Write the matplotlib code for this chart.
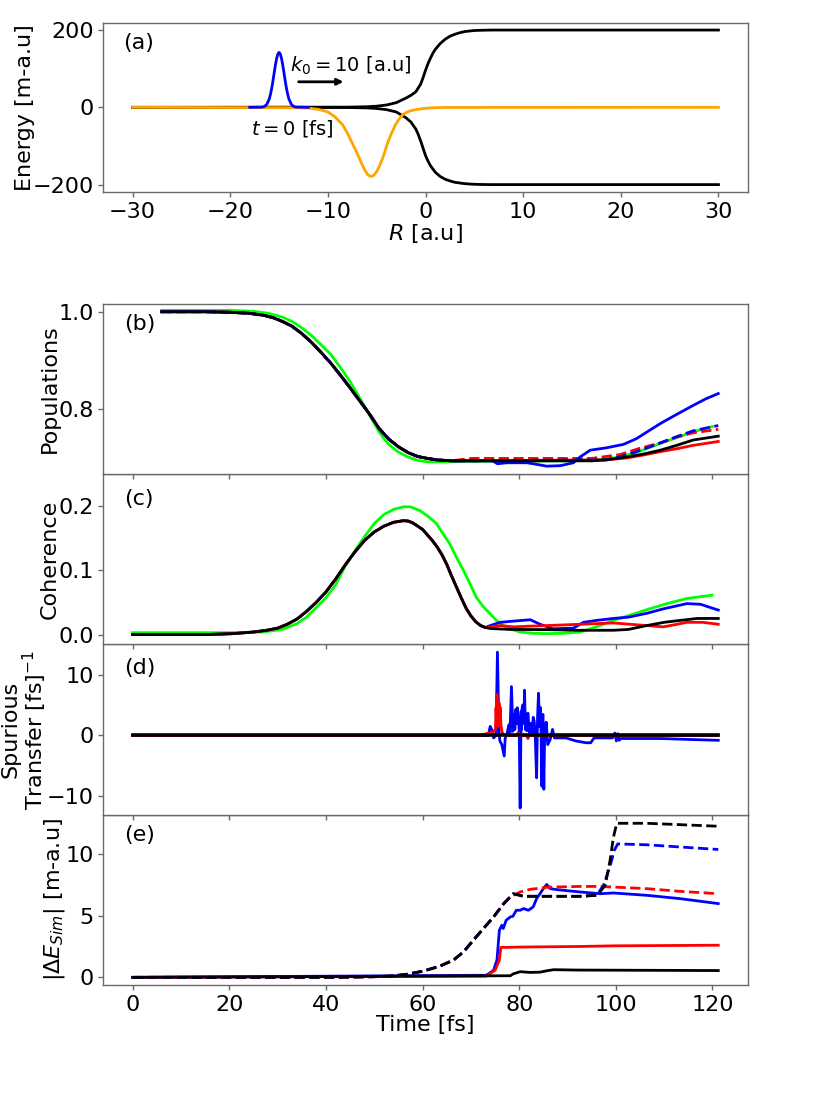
import matplotlib
matplotlib.use("Agg")
import matplotlib.pyplot as plt

# ---------------- panel (a) data ----------------
R_up = [-30, -8, -6, -5, -4, -3, -2, -1.5, -1, -0.5, -0.25, 0, 0.25, 0.5, 0.75, 1, 1.5, 2, 2.5,
        3, 3.5, 4, 5, 6, 7, 30]
E_up = [0, 0.5, 1.5, 3, 6, 12, 24, 31, 40, 60, 77, 96, 113, 127, 140, 150, 165, 176, 184,
        189, 193, 196, 198.8, 199.6, 200, 200]
R_lo = [-30, -8, -6, -5, -4, -3, -2, -1.5, -1, -0.75, -0.5, -0.25, 0, 0.25, 0.5, 1, 1.5, 2, 2.5,
        3, 4, 5, 6, 7, 30]
E_lo = [0, -0.5, -1.5, -3, -6, -12, -27, -38, -56, -70, -87, -106, -125, -139, -151, -168, -179,
        -186, -190.5, -194, -197.5, -199.2, -199.8, -200, -200]
R_cpl = [-30, -13, -12, -11, -10, -9.3, -8.5, -8, -7.5, -7, -6.5, -6.2, -5.9, -5.6, -5.3, -5.0,
         -4.7, -4.3, -3.9, -3.5, -3.1, -2.7, -2.3, -1.8, -1.2, -0.5, 0.5, 2, 30]
E_cpl = [0, -1, -2, -5, -12, -24, -45, -67, -93, -119, -148, -163, -175, -179, -176, -166,
         -151, -125, -93, -68, -46, -30, -18, -11, -7, -4, -1.5, -0.3, 0]
R_wp = [-18, -16.75, -16.5, -16.25, -16, -15.875, -15.75, -15.625, -15.5, -15.375, -15.25,
        -15.125, -15, -14.875, -14.75, -14.625, -14.5, -14.375, -14.25, -14.125, -14,
        -13.75, -13.5, -13.25, -12]
E_wp = [0, 0.5, 2.2, 7.9, 22, 34.5, 50, 69, 89.5, 109.5, 126.5, 138, 142, 138, 126.5, 109.5,
        89.5, 69, 50, 34.5, 22, 7.9, 2.2, 0.5, 0]

# ---------------- panel (b) populations ----------------
early_b = [(6, 1.0), (15, 1.0), (20, 0.999), (24, 0.997), (27, 0.993), (29, 0.988), (31, 0.980),
           (33, 0.970), (35, 0.955), (37, 0.937), (39, 0.916), (41, 0.894), (43, 0.869),
           (45, 0.843), (47, 0.816), (49, 0.789), (51, 0.759), (53, 0.737), (55, 0.721),
           (57, 0.709), (59, 0.701), (61, 0.697), (63, 0.694), (66, 0.692)]
black_b = early_b + [(95, 0.692), (98, 0.694), (102.3, 0.700), (105.7, 0.706), (109.2, 0.714),
                     (112.6, 0.724), (116, 0.735), (121.2, 0.743)]
green_b = [(6, 1.003), (20, 1.003), (25, 1.001), (28, 0.997), (31, 0.989), (33, 0.980), (35, 0.967),
           (37, 0.951), (39, 0.932), (41, 0.912), (43, 0.885), (45, 0.856), (47, 0.822),
           (49, 0.787), (51, 0.752), (52, 0.738), (53, 0.726), (55, 0.710), (57, 0.700),
           (59, 0.693), (61, 0.690), (65, 0.690), (70, 0.691), (90, 0.692), (97, 0.695),
           (100.9, 0.700), (105, 0.712), (109.2, 0.728), (112.6, 0.740), (116, 0.752), (120, 0.763)]
blue_b = early_b + [(74.5, 0.692), (75.5, 0.686), (77.4, 0.688), (81.6, 0.688), (82.9, 0.686),
                    (85.7, 0.681), (88.5, 0.682), (91.2, 0.688), (92.6, 0.700), (94.7, 0.714),
                    (98.1, 0.719), (101.6, 0.726), (104.3, 0.738), (106.5, 0.752), (109.2, 0.769),
                    (112.6, 0.788), (116.1, 0.807), (118.6, 0.820), (121.2, 0.831)]
blue_dash_b = early_b + [(98, 0.694), (102.3, 0.704), (105.7, 0.716), (109.2, 0.729),
                         (112.6, 0.742), (116, 0.754), (121.2, 0.765)]
red_dash_b = early_b + [(70, 0.697), (95, 0.697), (100.9, 0.705), (105, 0.718), (109.2, 0.729),
                        (112.6, 0.741), (116, 0.750), (121.2, 0.757)]
red_b = early_b + [(98, 0.694), (102.3, 0.698), (105.7, 0.704), (109.2, 0.711), (112.6, 0.717),
                   (116, 0.724), (121.2, 0.732)]

# ---------------- panel (c) coherence ----------------
early_c = [(0, 0.0), (15, 0.0), (20.8, 0.0015), (25, 0.004), (28, 0.007), (30, 0.010), (32, 0.016),
           (34, 0.024), (36, 0.036), (38, 0.050), (40, 0.066), (42, 0.086), (44, 0.108),
           (46, 0.128), (48, 0.146), (50, 0.159), (52, 0.168), (54, 0.174), (56, 0.1765),
           (57, 0.176), (58, 0.173), (60, 0.163), (62, 0.146), (63, 0.136), (64, 0.124),
           (65, 0.109), (66, 0.091), (67, 0.074), (68, 0.057), (69, 0.041), (70, 0.029),
           (71, 0.020), (72, 0.014), (73, 0.011)]
black_c = early_c + [(74, 0.0095), (78, 0.008), (85.7, 0.0077), (92.6, 0.0067), (99.5, 0.0067),
                     (102.6, 0.008), (106.4, 0.014), (110, 0.019), (113.3, 0.022), (116.8, 0.025),
                     (121.2, 0.025)]
red_c = early_c + [(74, 0.012), (76.1, 0.014), (78.8, 0.012), (82, 0.013), (85.7, 0.014),
                   (92.6, 0.016), (99.5, 0.018), (103, 0.016), (106.4, 0.014), (109.8, 0.012),
                   (112, 0.015), (114.7, 0.019), (118, 0.019), (121.2, 0.016)]
blue_c = early_c + [(74, 0.014), (76.1, 0.019), (79, 0.021), (82.3, 0.023), (84.3, 0.016),
                    (87, 0.009), (91.2, 0.010), (93.3, 0.019), (96, 0.022), (99.5, 0.025),
                    (102.6, 0.027), (106.4, 0.033), (109.9, 0.040), (114.7, 0.048), (117.5, 0.047),
                    (121.2, 0.038)]
green_c = [(0, 0.003), (20, 0.003), (27, 0.004), (31, 0.008), (34, 0.017), (36, 0.027),
           (38, 0.042), (40, 0.057), (42, 0.077), (44, 0.106), (46, 0.130), (48, 0.152),
           (50, 0.172), (52, 0.186), (54, 0.194), (56, 0.198), (57.5, 0.198), (59.5, 0.192),
           (61, 0.184), (62.9, 0.172), (64, 0.159), (65.6, 0.141), (67, 0.120), (68.5, 0.099),
           (70, 0.076), (71.1, 0.058), (72.5, 0.044), (74, 0.032), (75.3, 0.022), (76.5, 0.015),
           (78, 0.009), (80.2, 0.004), (83, 0.002), (85.7, 0.0015), (89, 0.002), (92.6, 0.004),
           (96, 0.012), (99.5, 0.022), (103.7, 0.032), (107, 0.040), (110.6, 0.048),
           (114.7, 0.056), (119.9, 0.061)]

# ---------------- panel (d) spurious transfer ----------------
black_d = [(0, 0.0), (121.2, 0.0)]
blue_d = [(0, 0), (73.6, 0), (74.0, 1.5), (74.3, 1.0), (74.7, -0.4), (75.2, 0), (75.5, 13.8),
          (75.8, 0.7), (76.0, -0.9), (76.4, -1.5), (76.9, -3.4), (77.1, -0.5), (77.5, 0.4),
          (77.9, 1.8), (78.1, 0.5), (78.4, 8.1), (78.7, 0.7), (78.9, 3.5), (79.1, 1.0),
          (79.3, 4.3), (79.5, 2.0), (79.6, 4.6), (79.8, 3.0), (80.0, 1.0), (80.2, -12.0),
          (80.4, 4.0), (80.5, 1.0), (80.6, 4.5), (80.8, 5.1), (81.0, 2.0), (81.1, 7.5),
          (81.3, 1.0), (81.5, 2.9), (81.6, 0.8), (81.8, 3.7), (82.1, 0.5), (82.4, 2.0),
          (82.7, 0.5), (82.9, 3.0), (83.1, 2.4), (83.3, 0.5), (83.6, -7.0), (83.8, 3.0),
          (84.0, 7.0), (84.2, 1.5), (84.4, 4.6), (84.5, 2.0), (84.7, -8.4), (84.9, 3.5),
          (85.1, -8.9), (85.3, 2.0), (85.4, 1.0), (85.6, 2.2), (85.9, -1.5), (86.4, -0.7),
          (86.9, 1.0), (87.3, -0.4), (89.7, -0.4), (91.7, -0.9), (93.8, -1.2), (94.8, -1.2),
          (95.5, -0.4), (99.3, -0.4), (99.8, 0.4), (100.1, -0.9), (100.4, 0.3), (100.7, -0.8),
          (101.0, -0.5), (102.4, -0.5), (109.3, -0.5), (115.0, -0.65), (121.2, -0.8)]
red_d = [(0, 0), (72, 0), (73.6, 0.4), (74.7, 0.7), (75.1, 1.0), (75.2, 4.6), (75.3, 3.0),
         (75.4, 6.8), (75.5, 2.5), (75.6, 5.1), (75.7, 1.5), (75.8, 5.5), (75.9, 4.85),
         (76.0, 1.8), (76.1, 4.6), (76.2, 2.0), (76.4, 0.7), (76.7, 0.15), (77.5, 0), (79.5, 0),
         (79.8, 0.5), (80.1, 0), (81.5, 0), (81.8, -0.5), (82.1, 0), (121.2, 0)]

# ---------------- panel (e) energy error ----------------
black_dash_e = [(0, 0), (40, 0), (45, 0.02), (49.8, 0.05), (53.3, 0.1), (56.7, 0.24), (60.2, 0.51),
                (63.6, 0.91), (66.4, 1.4), (68.5, 2.07), (70.5, 3.0), (72.6, 3.95), (74.7, 4.89),
                (76.8, 5.97), (78.8, 6.77), (80.9, 6.56), (85.7, 6.56), (92.6, 6.56), (96.1, 6.64),
                (97.8, 7.44), (98.8, 9.46), (99.5, 11.34), (100.2, 12.47), (106.4, 12.47),
                (121.2, 12.23)]
red_dash_e = [(0, 0), (40, 0), (45, 0.02), (49.8, 0.05), (53.3, 0.1), (56.7, 0.24), (60.2, 0.51),
              (63.6, 0.91), (66.4, 1.4), (68.5, 2.07), (70.5, 3.0), (72.6, 3.95), (74.7, 4.89),
              (76.8, 5.97), (78.0, 6.45), (80.2, 6.91), (82.2, 7.12), (86, 7.3), (92.6, 7.36),
              (96, 7.36), (99.5, 7.31), (106.4, 7.18), (113.3, 6.96), (121.2, 6.77)]
blue_dash_e = [(0, 0), (40, 0), (45, 0.02), (49.8, 0.05), (53.3, 0.1), (56.7, 0.24), (60.2, 0.51),
               (63.6, 0.91), (66.4, 1.4), (68.5, 2.07), (70.5, 3.0), (72.6, 3.95), (74.7, 4.89),
               (76.8, 5.97), (78.8, 6.77), (80.9, 6.56), (85.7, 6.56), (92.6, 6.56), (96.1, 6.64),
               (97.5, 7.5), (98.8, 9.0), (99.7, 10.3), (100.4, 10.8), (106.4, 10.73),
               (121.2, 10.35)]
blue_e = [(0, 0), (73.2, 0.17), (74.7, 0.57), (75.4, 1.4), (75.9, 3.81), (76.4, 4.22), (76.7, 3.95),
          (77.3, 4.62), (78.2, 4.9), (78.7, 4.94), (79.4, 5.43), (80.2, 5.43), (80.9, 5.57),
          (81.9, 5.43), (82.9, 5.70), (83.6, 6.37), (84.3, 6.77), (85.0, 7.18), (85.7, 7.52),
          (86.4, 7.18), (87.8, 7.10), (92.6, 6.91), (96.8, 6.77), (99.5, 6.83), (106.4, 6.64),
          (113.3, 6.37), (121.2, 5.97)]
red_e = [(0, 0), (73.2, 0.1), (75.0, 0.57), (75.9, 1.4), (76.2, 2.42), (80, 2.45), (92.6, 2.5),
         (99.5, 2.55), (121.2, 2.6)]
black_e = [(0, 0), (78.2, 0.13), (78.7, 0.27), (80.2, 0.46), (82.2, 0.4), (84.3, 0.42),
           (85.7, 0.53), (87.1, 0.62), (92, 0.59), (121.2, 0.55)]

a_xticks = [-30, -20, -10, 0, 10, 20, 30]
a_yticks = [-200, 0, 200]
t_ticks = [0, 20, 40, 60, 80, 100, 120]
b_yticks = [0.8, 1.0]
c_yticks = [0.0, 0.1, 0.2]
d_yticks = [-10, 0, 10]
e_yticks = [0, 5, 10]

FS = 16
plt.rcParams['font.family'] = ['DejaVu Sans']
plt.rcParams['font.size'] = FS
plt.rcParams['mathtext.fontset'] = 'dejavusans'
SPINE = '#6a6a6a'


def xy(pairs):
    return [p[0] for p in pairs], [p[1] for p in pairs]


def style(ax):
    for s in ax.spines.values():
        s.set_color(SPINE)
        s.set_linewidth(1.0)
    ax.tick_params(color=SPINE, labelsize=FS, length=3.5, width=1.0)


fig = plt.figure(figsize=(8.3, 11.07), dpi=100)
L, W = 0.1245, 0.7764
axa = fig.add_axes([L, 0.8266, W, 0.1529])
H = 0.1539
axe = fig.add_axes([L, 0.1102, W, H])
axd = fig.add_axes([L, 0.1102 + H, W, H], sharex=axe)
axc = fig.add_axes([L, 0.1102 + 2 * H, W, H], sharex=axe)
axb = fig.add_axes([L, 0.1102 + 3 * H, W, H], sharex=axe)

LW = 2.0
# (a)
axa.plot(R_up, E_up, color='black', lw=LW)
axa.plot(R_lo, E_lo, color='black', lw=LW)
axa.plot(R_cpl, E_cpl, color='orange', lw=LW)
axa.plot(R_wp, E_wp, color='blue', lw=LW)
axa.set_xlim(-33, 33)
axa.set_ylim(-219, 219)
axa.set_xticks(a_xticks)
axa.set_yticks(a_yticks)
axa.set_xlabel(r'$R$ [a.u]', labelpad=0)
axa.set_ylabel('Energy [m-a.u]')
axa.yaxis.set_label_coords(-0.106, 0.5)
axa.text(0.031, 0.88, '(a)', transform=axa.transAxes, ha='left', va='center', fontsize=FS)
axa.text(-13.9, 107, r'$k_0=10$ [a.u]', ha='left', va='center', fontsize=14)
axa.text(-17.9, -56, r'$t=0$ [fs]', ha='left', va='center', fontsize=14)
axa.annotate('', xy=(-8.4, 66), xytext=(-13.0, 66),
             arrowprops=dict(arrowstyle='-|>', color='black', lw=2, mutation_scale=9,
                             shrinkA=0, shrinkB=0))
style(axa)

# (b)
for data, c, ls in [(green_b, 'lime', '-'), (red_b, 'red', '-'), (red_dash_b, 'red', '--'),
                    (blue_b, 'blue', '-'), (blue_dash_b, 'blue', '--'), (black_b, 'black', '-')]:
    x, y = xy(data)
    axb.plot(x, y, color=c, ls=ls, lw=LW)
axb.set_ylim(0.665, 1.017)
axb.set_yticks(b_yticks)
axb.set_ylabel('Populations')
axb.yaxis.set_label_coords(-0.067, 0.5)
axb.text(0.032, 0.878, '(b)', transform=axb.transAxes, ha='left', va='center', fontsize=FS)

# (c)
for data, c in [(green_c, 'lime'), (blue_c, 'blue'), (red_c, 'red'), (black_c, 'black')]:
    x, y = xy(data)
    axc.plot(x, y, color=c, lw=LW)
axc.set_ylim(-0.015, 0.249)
axc.set_yticks(c_yticks)
axc.set_ylabel('Coherence')
axc.yaxis.set_label_coords(-0.067, 0.5)
axc.text(0.032, 0.85, '(c)', transform=axc.transAxes, ha='left', va='center', fontsize=FS)

# (d)
for data, c, lw in [(blue_d, 'blue', LW), (red_d, 'red', LW), (black_d, 'black', 2.6)]:
    x, y = xy(data)
    axd.plot(x, y, color=c, lw=lw)
axd.set_ylim(-13.1, 15.1)
axd.set_yticks(d_yticks)
axd.set_ylabel('Spurious\nTransfer [fs]$^{-1}$', linespacing=1.0)
axd.yaxis.set_label_coords(-0.085, 0.5)
axd.text(0.032, 0.86, '(d)', transform=axd.transAxes, ha='left', va='center', fontsize=FS)

# (e)
for data, c, ls in [(blue_e, 'blue', '-'), (red_e, 'red', '-'), (black_e, 'black', '-'),
                    (red_dash_e, 'red', '--'), (blue_dash_e, 'blue', '--'),
                    (black_dash_e, 'black', '--')]:
    x, y = xy(data)
    axe.plot(x, y, color=c, ls=ls, lw=LW)
axe.set_ylim(-0.62, 13.17)
axe.set_yticks(e_yticks)
axe.set_ylabel(r'$|\Delta E_{Sim}|$ [m-a.u]')
axe.yaxis.set_label_coords(-0.057, 0.5)
axe.set_xlabel('Time [fs]', labelpad=0)
axe.text(0.032, 0.883, '(e)', transform=axe.transAxes, ha='left', va='center', fontsize=FS)

axe.set_xlim(-6.06, 127.3)
axe.set_xticks(t_ticks)
for ax in (axb, axc, axd):
    ax.tick_params(labelbottom=False)
for ax in (axb, axc, axd, axe):
    style(ax)

fig.savefig('out.png', dpi=100)
